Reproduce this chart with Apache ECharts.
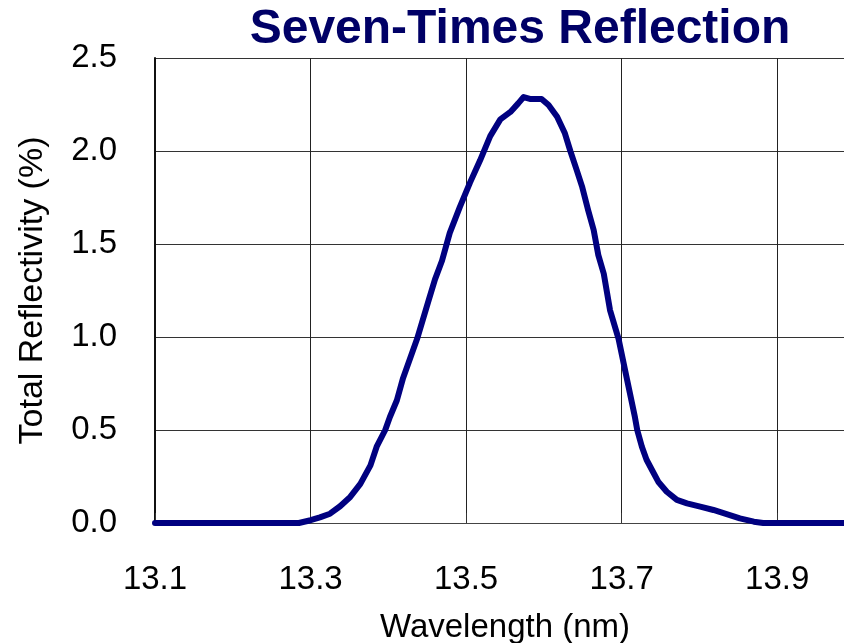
<!DOCTYPE html>
<html>
<head>
<meta charset="utf-8">
<script src="https://cdn.jsdelivr.net/npm/echarts@6/dist/echarts.min.js"></script>
<style>
html,body{margin:0;padding:0;background:#fff;overflow:hidden;}
#chart{width:844px;height:643px;}
</style>
</head>
<body>
<div id="chart"></div>
<script>
const titleText = "Seven-Times Reflection";
const xName = "Wavelength (nm)";
const yName = "Total Reflectivity (%)";
const xTicks = [13.1, 13.3, 13.5, 13.7, 13.9];
const yTicks = [0.0, 0.5, 1.0, 1.5, 2.0, 2.5];
const wavelength = [13.10, 13.15, 13.20, 13.25, 13.285, 13.300, 13.312, 13.325, 13.338, 13.351, 13.364, 13.377, 13.385, 13.396, 13.402, 13.411, 13.419, 13.437, 13.452, 13.460, 13.469, 13.479, 13.492, 13.505, 13.518, 13.531, 13.544, 13.557, 13.567, 13.574, 13.582, 13.597, 13.606, 13.617, 13.627, 13.634, 13.642, 13.649, 13.657, 13.664, 13.670, 13.677, 13.685, 13.696, 13.707, 13.717, 13.720, 13.726, 13.732, 13.739, 13.747, 13.758, 13.771, 13.784, 13.801, 13.818, 13.835, 13.852, 13.870, 13.882, 13.90, 13.95, 14.00];
const reflectivity = [0, 0, 0, 0, 0, 0.015, 0.03, 0.05, 0.09, 0.14, 0.21, 0.31, 0.41, 0.50, 0.57, 0.66, 0.78, 0.99, 1.20, 1.31, 1.41, 1.56, 1.70, 1.83, 1.95, 2.08, 2.17, 2.21, 2.256, 2.29, 2.28, 2.28, 2.247, 2.184, 2.095, 2.0, 1.90, 1.81, 1.68, 1.575, 1.44, 1.34, 1.145, 0.99, 0.77, 0.57, 0.50, 0.41, 0.34, 0.285, 0.222, 0.168, 0.124, 0.106, 0.088, 0.070, 0.048, 0.025, 0.007, 0, 0, 0, 0];

const chart = echarts.init(document.getElementById('chart'));
const font = 'Liberation Sans, Arial, sans-serif';
chart.setOption({
  backgroundColor: '#fff',
  animation: false,
  graphic: [{
    type: 'text', x: 520, y: 30,
    style: { text: titleText, textAlign: 'center', textVerticalAlign: 'middle',
      font: 'bold 48px Liberation Sans, Arial, sans-serif', fill: '#000066' }
  }],
  grid: { left: 155, top: 58, bottom: 120, width: 700, containLabel: false, outerBoundsMode: 'none' },
  xAxis: {
    type: 'value', min: xTicks[0], max: 14.0, interval: 0.2,
    name: xName, nameLocation: 'middle', nameGap: 88,
    nameTextStyle: { fontFamily: font, fontSize: 33, color: '#000' },
    axisLine: { show: true, onZero: false, lineStyle: { color: '#444', width: 1 } },
    axisTick: { show: true, inside: true, length: 10, lineStyle: { color: '#333' } },
    axisLabel: { margin: 40, fontFamily: font, fontSize: 33, color: '#000', showMaxLabel: false,
      formatter: v => v.toFixed(1) },
    splitLine: { show: true, lineStyle: { color: '#222', width: 1 } }
  },
  yAxis: {
    type: 'value', min: yTicks[0], max: yTicks[yTicks.length - 1], interval: 0.5,
    name: yName, nameLocation: 'middle', nameGap: 105, nameRotate: 90,
    nameTextStyle: { fontFamily: font, fontSize: 34, color: '#000' },
    axisLine: { show: true, lineStyle: { color: '#111', width: 2 } },
    axisTick: { show: false },
    axisLabel: { margin: 38, fontFamily: font, fontSize: 33, color: '#000',
      formatter: v => v.toFixed(1) },
    splitLine: { show: true, lineStyle: { color: '#333', width: 1 } }
  },
  series: [{
    type: 'line',
    data: wavelength.map((x, i) => [x, reflectivity[i]]),
    showSymbol: false,
    smooth: false,
    lineStyle: { color: '#000080', width: 6, join: 'round', cap: 'round' },
    itemStyle: { color: '#000080' }
  }]
});
</script>
</body>
</html>
